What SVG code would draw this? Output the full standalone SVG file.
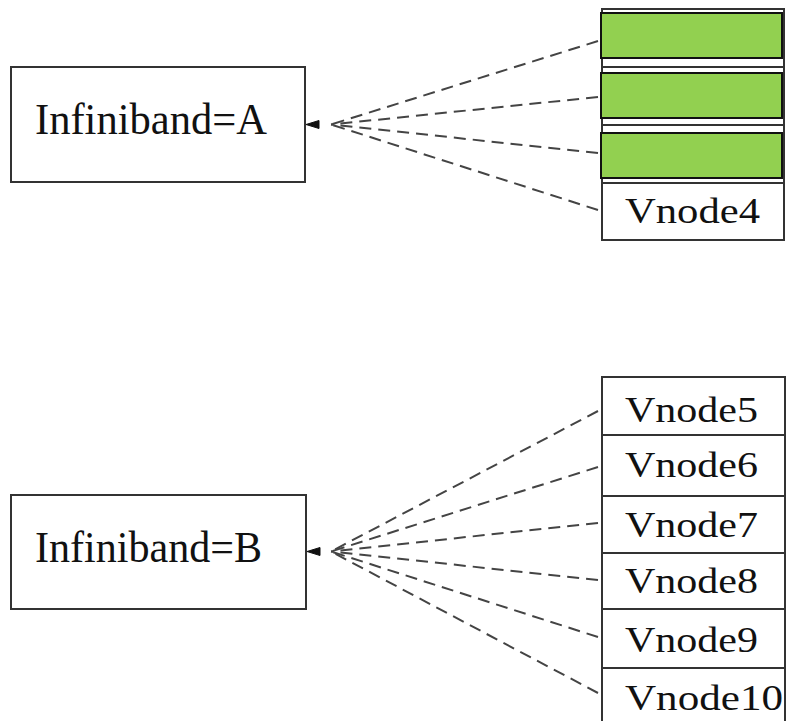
<svg xmlns="http://www.w3.org/2000/svg" width="789" height="721" viewBox="0 0 789 721">
<style>
.box{fill:#fff;stroke:#333;stroke-width:2}
.cell{fill:#fff;stroke:#333;stroke-width:2}
.green{fill:#92d050;stroke:#111;stroke-width:2}
.big{font-family:"Liberation Serif","Times New Roman",serif;font-size:44px;fill:#111}
.lbl{font-family:"Liberation Serif","Times New Roman",serif;font-size:35px;fill:#111}
.edge{fill:none;stroke:#444;stroke-width:2;stroke-dasharray:12 7}
.head{fill:#111;stroke:#111;stroke-width:1}
</style>
<rect width="789" height="721" fill="#fff"/>
<g id="infiniband-a">
<rect class="box" x="11" y="67" width="294" height="115"/>
<text class="big" x="35" y="134" textLength="232" lengthAdjust="spacingAndGlyphs">Infiniband=A</text>
</g>
<g id="infiniband-b">
<rect class="box" x="11" y="495" width="295" height="114"/>
<text class="big" x="35" y="562" textLength="227" lengthAdjust="spacingAndGlyphs">Infiniband=B</text>
</g>
<g id="vnodes-a">
<rect class="cell" x="602" y="9" width="182" height="58"/>
<rect class="cell" x="602" y="67" width="182" height="58"/>
<rect class="cell" x="602" y="125" width="182" height="58"/>
<rect class="cell" x="602" y="183" width="182" height="57"/>
<rect class="green" x="601" y="13" width="181" height="45"/>
<rect class="green" x="601" y="73" width="181" height="45"/>
<rect class="green" x="601" y="133" width="181" height="45"/>
<text class="lbl" x="625" y="223" textLength="135" lengthAdjust="spacingAndGlyphs">Vnode4</text>
</g>
<g id="vnodes-b">
<rect class="cell" x="602" y="377" width="183" height="58"/>
<rect class="cell" x="602" y="435" width="183" height="61"/>
<rect class="cell" x="602" y="496" width="183" height="57"/>
<rect class="cell" x="602" y="553" width="183" height="56"/>
<rect class="cell" x="602" y="609" width="183" height="59"/>
<rect class="cell" x="602" y="668" width="183" height="60"/>
<text class="lbl" x="625" y="422" textLength="133" lengthAdjust="spacingAndGlyphs">Vnode5</text>
<text class="lbl" x="625" y="477" textLength="133" lengthAdjust="spacingAndGlyphs">Vnode6</text>
<text class="lbl" x="625" y="537" textLength="133" lengthAdjust="spacingAndGlyphs">Vnode7</text>
<text class="lbl" x="625" y="593" textLength="133" lengthAdjust="spacingAndGlyphs">Vnode8</text>
<text class="lbl" x="625" y="652" textLength="133" lengthAdjust="spacingAndGlyphs">Vnode9</text>
<text class="lbl" x="625" y="710" textLength="158" lengthAdjust="spacingAndGlyphs">Vnode10</text>
</g>
<g id="connectors">
<path class="edge" d="M598 41 L331 124.5"/>
<path class="edge" d="M598 97 L331 124.5"/>
<path class="edge" d="M598 153 L331 124.5"/>
<path class="edge" d="M598 210 L331 124.5"/>
<polygon class="head" points="306,124.5 319,120.5 319,128.5"/>
<path class="edge" d="M598 411 L331 551.5"/>
<path class="edge" d="M598 467 L331 551.5"/>
<path class="edge" d="M598 523 L331 551.5"/>
<path class="edge" d="M598 580 L331 551.5"/>
<path class="edge" d="M598 637 L331 551.5"/>
<path class="edge" d="M598 693 L331 551.5"/>
<polygon class="head" points="307,551.5 320,547.5 320,555.5"/>
</g>
</svg>
